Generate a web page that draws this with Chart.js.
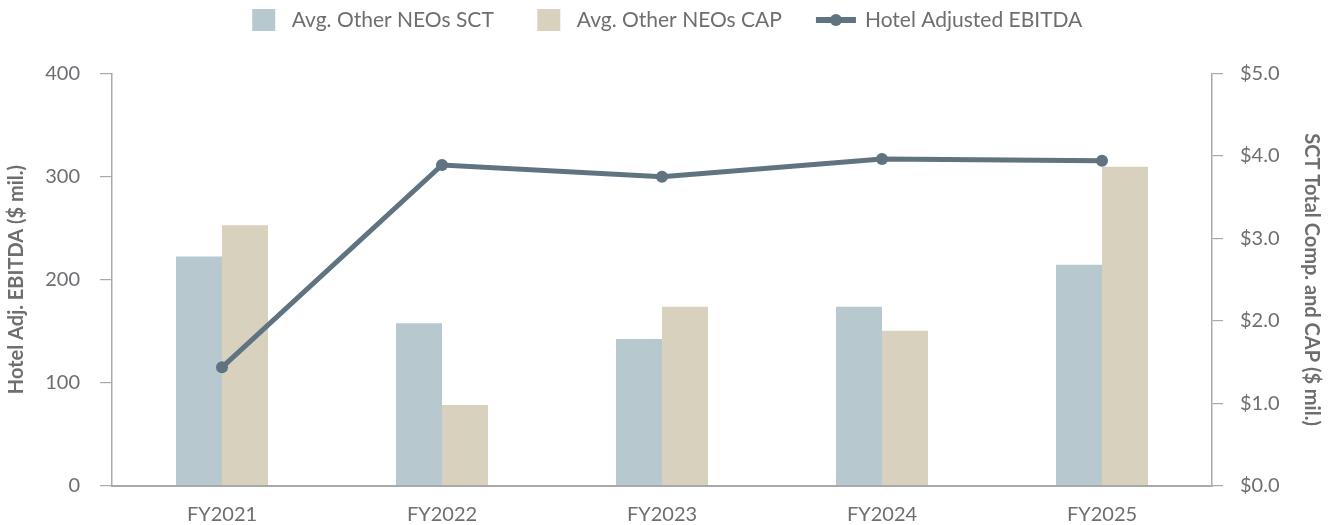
<!DOCTYPE html>
<html>
<head>
<meta charset="utf-8">
<script src="https://cdn.jsdelivr.net/npm/chart.js@4.4.1/dist/chart.umd.min.js"></script>
<style>
  html, body { margin: 0; padding: 0; background: #ffffff; }
  #wrap { width: 1334px; height: 525px; }
</style>
</head>
<body>
<div id="wrap"><canvas id="c" width="1334" height="525"></canvas></div>
<script>
// ---- data ----
const categories = ['FY2021', 'FY2022', 'FY2023', 'FY2024', 'FY2025'];
const sctValues = [2.78, 1.97, 1.78, 2.17, 2.68];      // Avg. Other NEOs SCT ($ mil.)
const capValues = [3.16, 0.98, 2.17, 1.88, 3.87];      // Avg. Other NEOs CAP ($ mil.)
const ebitdaValues = [114.9, 311.2, 299.9, 317.0, 315.4]; // Hotel Adjusted EBITDA ($ mil.)
const seriesNames = ['Avg. Other NEOs SCT', 'Avg. Other NEOs CAP', 'Hotel Adjusted EBITDA'];
const leftAxisTitle = 'Hotel Adj. EBITDA ($ mil.)';
const rightAxisTitle = 'SCT Total Comp. and CAP ($ mil.)';

// ---- styles ----
const SCT_COLOR = '#b7c8cf';
const CAP_COLOR = '#d8d1bd';
const LINE_COLOR = '#5f7381';
const AXIS_COLOR = '#a7a9ac';
const TEXT_COLOR = '#6d6e71';
const FONT = 'Lato, "Open Sans", sans-serif';

// legend marker images
function squareMarker(color) {
  const c = document.createElement('canvas');
  c.width = 63; c.height = 22;
  const g = c.getContext('2d');
  g.fillStyle = color;
  g.fillRect(34, 0, 23, 22);
  return c;
}
function lineMarker(color) {
  const c = document.createElement('canvas');
  c.width = 80; c.height = 14;
  const g = c.getContext('2d');
  g.strokeStyle = color;
  g.lineWidth = 6;
  g.beginPath(); g.moveTo(33, 7); g.lineTo(73, 7); g.stroke();
  g.fillStyle = color;
  g.beginPath(); g.arc(53, 7, 6, 0, Math.PI * 2); g.fill();
  return c;
}
const markers = [squareMarker(SCT_COLOR), squareMarker(CAP_COLOR), lineMarker(LINE_COLOR)];

const legendTweak = {
  id: 'legendTweak',
  beforeInit(chart) {
    const lg = chart.legend;
    const fit = lg.fit;
    lg.fit = function () { fit.call(this); this.height = 73.5; };
  },
  afterLayout(chart) {
    chart.legend.left -= 16.75;
    chart.legend.right -= 16.75;
  }
};

function build() {
  new Chart(document.getElementById('c'), {
    data: {
      labels: categories,
      datasets: [
        {
          type: 'bar', label: seriesNames[0], data: sctValues, yAxisID: 'y1',
          backgroundColor: SCT_COLOR, borderWidth: 0, order: 1,
          categoryPercentage: 0.418, barPercentage: 1.0
        },
        {
          type: 'bar', label: seriesNames[1], data: capValues, yAxisID: 'y1',
          backgroundColor: CAP_COLOR, borderWidth: 0, order: 1,
          categoryPercentage: 0.418, barPercentage: 1.0
        },
        {
          type: 'line', label: seriesNames[2], data: ebitdaValues, yAxisID: 'y',
          borderColor: LINE_COLOR, backgroundColor: LINE_COLOR, borderWidth: 5,
          pointRadius: 6, pointHoverRadius: 6, pointBackgroundColor: LINE_COLOR,
          pointBorderWidth: 0, tension: 0, fill: false, order: 0
        }
      ]
    },
    options: {
      responsive: false,
      animation: false,
      devicePixelRatio: 1,
      layout: { padding: 0 },
      plugins: {
        tooltip: { enabled: false },
        legend: {
          display: true,
          position: 'top',
          labels: {
            usePointStyle: true,
            pointStyleWidth: 63,
            boxHeight: 21,
            padding: 9.5,
            color: TEXT_COLOR,
            font: { family: FONT, size: 21 },
            generateLabels(chart) {
              return chart.data.datasets.map((ds, i) => ({
                text: ds.label,
                fillStyle: 'transparent',
                strokeStyle: 'transparent',
                lineWidth: 0,
                pointStyle: markers[i],
                fontColor: TEXT_COLOR,
                hidden: false,
                datasetIndex: i
              }));
            }
          }
        }
      },
      scales: {
        x: {
          type: 'category',
          offset: true,
          grid: { display: false, drawTicks: true, tickLength: 5 },
          border: { display: true, color: AXIS_COLOR, width: 2 },
          ticks: { color: TEXT_COLOR, font: { family: FONT, size: 20 }, padding: 12, maxRotation: 0 },
          afterFit(scale) { scale.height = 39.3; }
        },
        y: {
          type: 'linear',
          position: 'left',
          min: 0, max: 400,
          ticks: { stepSize: 100, color: TEXT_COLOR, font: { family: FONT, size: 20 }, padding: 20 },
          grid: { display: true, drawOnChartArea: false, drawTicks: true, tickLength: 12, color: AXIS_COLOR, lineWidth: 1.2 },
          border: { display: true, color: AXIS_COLOR, width: 1.5 },
          title: {
            display: true, text: leftAxisTitle, color: TEXT_COLOR,
            font: { family: FONT, size: 20, weight: 'bold' },
            padding: { top: 5, bottom: 0 }
          },
          afterFit(scale) { scale.width = 112; }
        },
        y1: {
          type: 'linear',
          position: 'right',
          min: 0, max: 5,
          ticks: {
            stepSize: 1, color: TEXT_COLOR, font: { family: FONT, size: 20 }, padding: 17,
            callback: (v) => '$' + Number(v).toFixed(1)
          },
          grid: { display: true, drawOnChartArea: false, drawTicks: true, tickLength: 11, color: AXIS_COLOR, lineWidth: 1.2 },
          border: { display: true, color: AXIS_COLOR, width: 1.5 },
          title: {
            display: true, text: rightAxisTitle, color: TEXT_COLOR,
            font: { family: FONT, size: 20, weight: 'bold' },
            padding: { top: 11, bottom: 0 }
          },
          afterFit(scale) { scale.width = 122; }
        }
      }
    },
    plugins: [legendTweak]
  });
}

if (document.fonts && document.fonts.load) {
  Promise.all([
    document.fonts.load('20px Lato'),
    document.fonts.load('bold 20px Lato')
  ]).then(build, build);
} else {
  build();
}
</script>
</body>
</html>
